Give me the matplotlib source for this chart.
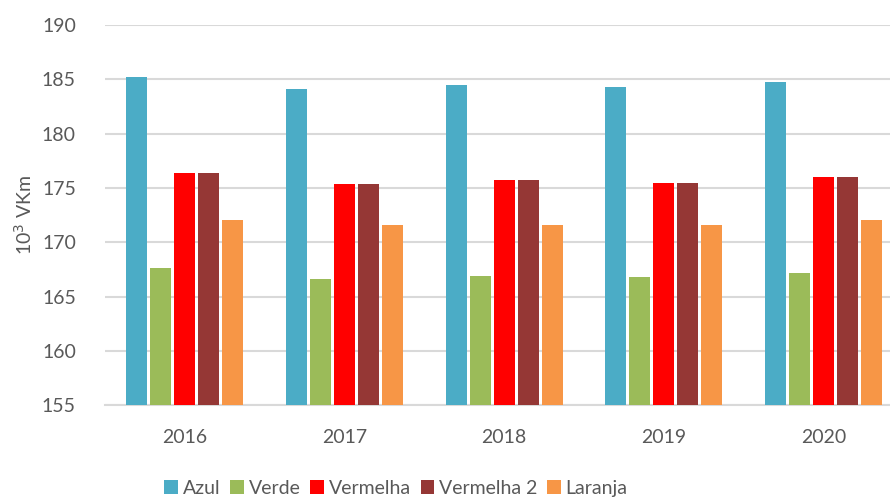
import numpy as np
import matplotlib.pyplot as plt

# values
years = ['2016', '2017', '2018', '2019', '2020']
azul = [185.2, 184.1, 184.5, 184.3, 184.8]
verde = [167.6, 166.6, 166.9, 166.8, 167.2]
vermelha = [176.4, 175.4, 175.7, 175.5, 176.0]
vermelha2 = [176.4, 175.4, 175.7, 175.5, 176.0]
laranja = [172.1, 171.6, 171.6, 171.6, 172.1]

series = [azul, verde, vermelha, vermelha2, laranja]
names = ['Azul', 'Verde', 'Vermelha', 'Vermelha 2', 'Laranja']
colors = ['#4bacc6', '#9bbb59', '#ff0000', '#953735', '#f79646']

plt.rcParams['font.family'] = ['Lato', 'DejaVu Sans']
txt = '#595959'

fig = plt.figure(figsize=(8.9, 4.99), dpi=100)
ax = fig.add_axes([0.118, 0.188, 0.897, 0.7615])

x = np.arange(len(years))
step = 0.15
for i, (vals, name, c) in enumerate(zip(series, names, colors)):
    ax.bar(x + (i - 2) * step, np.array(vals) - 155, bottom=155, width=0.132,
           color=c, label=name, zorder=3)

ax.set_xlim(-0.5, len(years) - 0.5)
ax.set_ylim(155, 190)
ax.set_yticks(np.arange(155, 191, 5))
ax.set_xticks(x)
ax.set_xticklabels(years)
ax.grid(axis='y', color='#d9d9d9', linewidth=1.5, zorder=0)
for s in ['top', 'right', 'left']:
    ax.spines[s].set_visible(False)
ax.spines['bottom'].set_color('#d9d9d9')
ax.spines['bottom'].set_linewidth(1.5)
ax.tick_params(axis='both', length=0, labelsize=14, colors=txt)
ax.tick_params(axis='y', pad=21)
ax.tick_params(axis='x', pad=17)
ax.set_ylabel('10$^3$ VKm', fontsize=14, color=txt, labelpad=5)

fig.legend(loc='center', bbox_to_anchor=(396 / 890, 0.022), ncol=5, frameon=False,
           fontsize=14, labelcolor=txt, handlelength=0.7, handleheight=0.7,
           handletextpad=0.25, columnspacing=0.5)

fig.savefig('out.png', dpi=100)
